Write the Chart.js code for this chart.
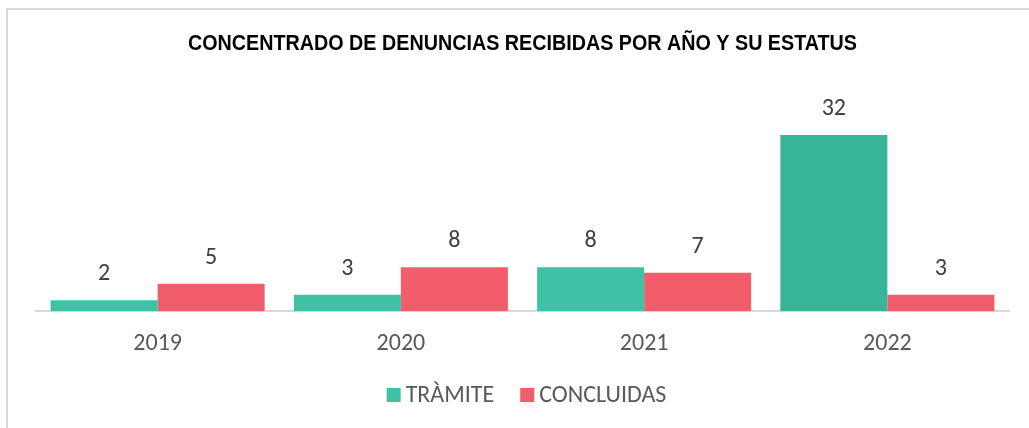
<!DOCTYPE html>
<html>
<head>
<meta charset="utf-8">
<script src="https://cdn.jsdelivr.net/npm/chart.js@4.4.1/dist/chart.umd.min.js"></script>
<style>
  html, body { margin: 0; padding: 0; background: #ffffff; overflow: hidden; }
  #wrap { position: relative; width: 1029px; height: 428px; }
  #frame { position: absolute; left: 6px; top: 8px; width: 1100px; height: 500px; border: 2px solid #d9d9d9; box-sizing: border-box; }
  #c { position: absolute; left: 0; top: 0; }
</style>
</head>
<body>
<div id="wrap">
  <div id="frame"></div>
  <canvas id="c" width="1029" height="428"></canvas>
</div>
<script>
const categories = ["2019", "2020", "2021", "2022"];
const tramite = [2, 3, 8, 32];
const concluidas = [5, 8, 7, 3];
const seriesNames = ["TRÀMITE", "CONCLUIDAS"];
const titleText = "CONCENTRADO DE DENUNCIAS RECIBIDAS POR AÑO Y SU ESTATUS";

const TEAL = ["#3fc1a5", "#3fc1a5", "#3fc1a5", "#38b499"];
const TEAL_LEGEND = "#3fc1a5";
const RED = "#f25d6b";
const TEXT_FONT = "'Carlito', 'Open Sans', sans-serif";

const chartTitle = {
  id: 'chartTitle',
  afterDraw(chart) {
    const ctx = chart.ctx;
    ctx.save();
    ctx.font = "bold 22px 'Liberation Sans', Arial, sans-serif";
    ctx.fillStyle = "#000000";
    ctx.textAlign = "center";
    ctx.textBaseline = "middle";
    const cx = 522.5, cy = 44;
    const w = ctx.measureText(titleText).width;
    ctx.translate(cx, cy);
    ctx.scale(669 / w, 1);
    ctx.fillText(titleText, 0, 0);
    ctx.restore();
  }
};

const valueLabels = {
  id: 'valueLabels',
  afterDatasetsDraw(chart) {
    const ctx = chart.ctx;
    ctx.save();
    ctx.font = "24px " + TEXT_FONT;
    ctx.fillStyle = "#404040";
    ctx.textAlign = "center";
    ctx.textBaseline = "middle";
    chart.data.datasets.forEach((ds, i) => {
      const meta = chart.getDatasetMeta(i);
      meta.data.forEach((el, j) => {
        ctx.fillText(String(ds.data[j]), el.x, el.y - 26);
      });
    });
    ctx.restore();
  }
};

const customLegend = {
  id: 'customLegend',
  afterDraw(chart) {
    const ctx = chart.ctx;
    ctx.save();
    ctx.font = "24px " + TEXT_FONT;
    ctx.textBaseline = "middle";
    const box = 14, gapText = 5, gapItem = 26;
    const colors = [TEAL_LEGEND, RED];
    const widths = seriesNames.map(n => box + gapText + ctx.measureText(n).width);
    const total = widths.reduce((a, b) => a + b, 0) + gapItem * (widths.length - 1);
    let x = (chart.width - total) / 2 + 12;
    const cy = chart.height - 33;
    seriesNames.forEach((n, i) => {
      ctx.fillStyle = colors[i];
      ctx.fillRect(x, cy - box / 2, box, box);
      ctx.fillStyle = "#595959";
      ctx.textAlign = "left";
      ctx.fillText(n, x + box + gapText, cy + 1);
      x += widths[i] + gapItem;
    });
    ctx.restore();
  }
};

new Chart(document.getElementById('c'), {
  type: 'bar',
  data: {
    labels: categories,
    datasets: [
      { label: seriesNames[0], data: tramite, backgroundColor: TEAL, borderWidth: 0 },
      { label: seriesNames[1], data: concluidas, backgroundColor: RED, borderWidth: 0 }
    ]
  },
  options: {
    responsive: false,
    animation: false,
    devicePixelRatio: 1,
    layout: { padding: { left: 36, right: 20, top: 91, bottom: 52 } },
    datasets: { bar: { categoryPercentage: 0.88, barPercentage: 1.0 } },
    plugins: {
      legend: { display: false },
      tooltip: { enabled: false },
      title: { display: false }
    },
    scales: {
      x: {
        grid: { display: false, drawTicks: false },
        border: { display: true, color: "#d9d9d9", width: 2 },
        ticks: { color: "#595959", font: { family: TEXT_FONT, size: 24 }, padding: 18 }
      },
      y: {
        display: false,
        min: 0,
        max: 40
      }
    }
  },
  plugins: [valueLabels, customLegend, chartTitle]
});
</script>
</body>
</html>
